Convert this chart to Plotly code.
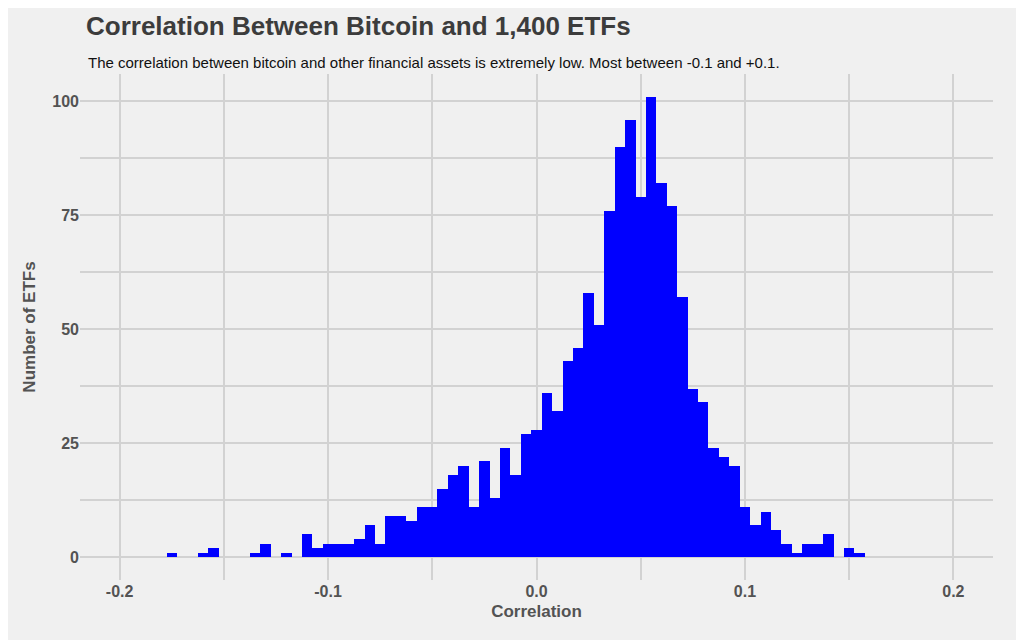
import plotly.graph_objects as go

# bin centres (width 0.005) and ETF counts
bin_centres = [round(-0.175 + 0.005 * i, 3) for i in range(67)]
counts = [1, 0, 0, 1, 2, 0, 0, 0, 1, 3, 0, 1, 0, 5, 2, 3, 3, 3, 4, 7,
          3, 9, 9, 8, 11, 11, 15, 18, 20, 11, 21, 13, 24, 18, 27, 28, 36, 32, 43, 46,
          58, 51, 76, 90, 96, 79, 101, 82, 77, 57, 37, 34, 24, 22, 20, 11, 7, 10, 6, 3,
          1, 3, 3, 5, 0, 2, 1]
x_ticks = [-0.2, -0.1, 0.0, 0.1, 0.2]
x_labels = ["-0.2", "-0.1", "0.0", "0.1", "0.2"]
y_ticks = [0, 25, 50, 75, 100]

bg = "#F0F0F0"
grid = "#D2D2D2"
txt = "#535353"

fig = go.Figure(go.Bar(x=bin_centres, y=counts, width=0.005,
                       marker=dict(color="#0000FF", line=dict(width=0))))

fig.update_layout(
    width=1024, height=640,
    paper_bgcolor=bg, plot_bgcolor=bg,
    margin=dict(l=72, r=39, t=66, b=68),
    font=dict(family="Liberation Sans, Arial", color=txt),
    bargap=0, showlegend=False,
    title=dict(text="<b>Correlation Between Bitcoin and 1,400 ETFs</b>",
               x=78 / 1024, xanchor="left", y=1 - 18 / 640, yanchor="middle",
               font=dict(size=26, color="#3C3C3C")),
    annotations=[dict(text="The correlation between bitcoin and other financial assets is extremely low. Most between -0.1 and +0.1.",
                      xref="paper", yref="paper", x=6 / 913, y=1 + 11 / 506, xanchor="left", yanchor="middle",
                      showarrow=False, font=dict(size=15, color="#111111"))],
)
fig.update_xaxes(range=[-0.219, 0.219], tickvals=x_ticks, ticktext=x_labels, automargin=False,
                 showgrid=True, gridcolor=grid, gridwidth=2, zeroline=False,
                 minor=dict(dtick=0.05, tick0=0, showgrid=True, gridcolor=grid, gridwidth=2),
                 tickfont=dict(size=16, color=txt, weight="bold"),
                 title=dict(text="<b>Correlation</b>", font=dict(size=17, color=txt), standoff=6))
fig.update_yaxes(range=[-5, 106], tickvals=y_ticks, automargin=False,
                 showgrid=True, gridcolor=grid, gridwidth=2, zeroline=False,
                 minor=dict(dtick=12.5, tick0=0, showgrid=True, gridcolor=grid, gridwidth=2),
                 tickfont=dict(size=16, color=txt, weight="bold"),
                 title=dict(text="<b>Number of ETFs</b>", font=dict(size=17, color=txt), standoff=12))

fig.write_html("out.html")
